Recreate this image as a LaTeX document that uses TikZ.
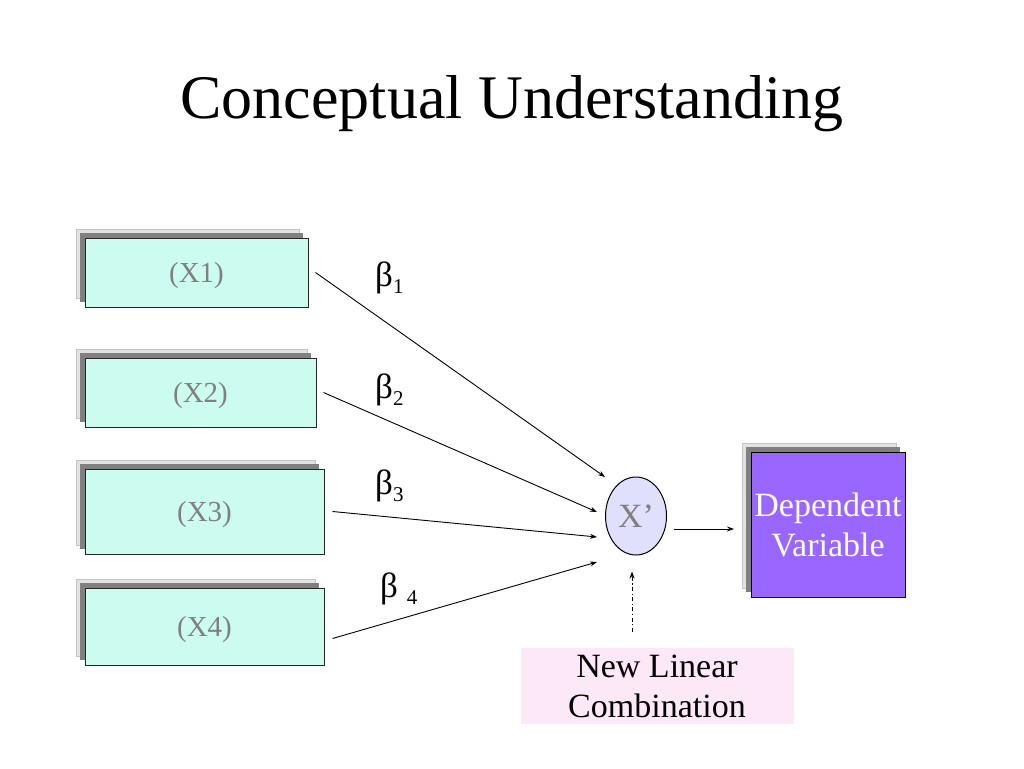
\documentclass[tikz,border=0pt]{standalone}
\usepackage{fontspec}
\setmainfont{Liberation Serif}
\usetikzlibrary{arrows.meta,shadows,shapes.geometric}
\definecolor{mint}{RGB}{204,252,240}
\definecolor{lav}{RGB}{224,224,252}
\definecolor{dvpurple}{RGB}{153,102,255}
\definecolor{pinkbg}{RGB}{253,232,248}
\definecolor{lshadow}{RGB}{226,226,226}
\definecolor{lshadowb}{RGB}{196,196,196}
\definecolor{dshadow}{RGB}{128,128,128}
\definecolor{txtgray}{RGB}{128,128,128}
\tikzset{
  shadowed/.style={
    copy shadow={shadow xshift=-9pt, shadow yshift=9pt, fill=lshadow, draw=lshadowb, line width=0.8pt},
    copy shadow={shadow xshift=-5pt, shadow yshift=5pt, fill=dshadow, draw=none}},
  xbox/.style={shadowed, draw=black!85, line width=1pt, fill=mint, inner sep=0pt,
    text height=24pt, text depth=4pt,
    text=txtgray, font=\fontsize{29}{29}\selectfont},
  conn/.style={line width=0.9pt, -{Stealth[length=7pt,width=5pt]}},
  betalab/.style={anchor=base west, inner sep=0pt, font=\fontsize{35}{35}\selectfont},
}
\newcommand{\subnum}[1]{\raisebox{-7pt}{\fontsize{21}{21}\selectfont #1}}
\begin{document}
\begin{tikzpicture}[x=1pt,y=-1pt]
\useasboundingbox (0,0) rectangle (1024,768);
\node[anchor=base, inner sep=0pt, font=\fontsize{62}{62}\selectfont] (title) at (512,118) {Conceptual Understanding};

\node[xbox, minimum width=223pt, minimum height=69pt] (b1) at (196.5,272.5) {(X1)};
\node[xbox, minimum width=231pt, minimum height=69pt] (b2) at (200.5,392.5) {(X2)};
\node[xbox, minimum width=239pt, minimum height=85pt] (b3) at (204.5,511.5) {(X3)};
\node[xbox, minimum width=239pt, minimum height=77pt] (b4) at (204.5,626.5) {(X4)};

\node[ellipse, draw=black, line width=1pt, fill=lav, minimum width=61pt, minimum height=78pt, inner sep=0pt,
  text=txtgray, font=\fontsize{34}{34}\selectfont] (xp) at (636,516) {X’};

\node[shadowed, draw=black, line width=1pt, fill=dvpurple, minimum width=154pt, minimum height=145pt, inner sep=0pt,
  text=white, align=center, font=\fontsize{34}{40}\selectfont] (dv) at (828,524.5) {Dependent\\Variable};

\node[fill=pinkbg, minimum width=273pt, minimum height=76pt, inner sep=0pt, align=center,
  font=\fontsize{34}{40}\selectfont] (nlc) at (657,686) {New Linear\\Combination};

\coordinate (e1) at (605,477);
\coordinate (e2) at (597,512);
\coordinate (e3) at (597,537);
\coordinate (e4) at (597,562);
\coordinate (dvin) at (734,529);

\draw[conn] ([xshift=7pt]b1.east) -- (e1);
\draw[conn] ([xshift=7pt]b2.east) -- (e2);
\draw[conn] ([xshift=8pt]b3.east) -- (e3);
\draw[conn] ([shift={(8,12)}]b4.east) -- (e4);

\draw[conn] ([xshift=7pt]xp.east |- dvin) -- (dvin);
\draw[line width=0.9pt, dash pattern=on 4pt off 2.5pt on 1.2pt off 2.5pt, -{Stealth[length=7pt,width=5pt]}]
  ([shift={(-4pt,16pt)}]nlc.north -| xp.south) -- ([shift={(-4pt,-16pt)}]xp.south);

\node[betalab] (be1) at (375,286) {β\subnum{1}};
\node[betalab] (be2) at (375,398) {β\subnum{2}};
\node[betalab] (be3) at (375,494) {β\subnum{3}};
\node[betalab] (be4) at (380,597) {β \subnum{4}};
\end{tikzpicture}
\end{document}
